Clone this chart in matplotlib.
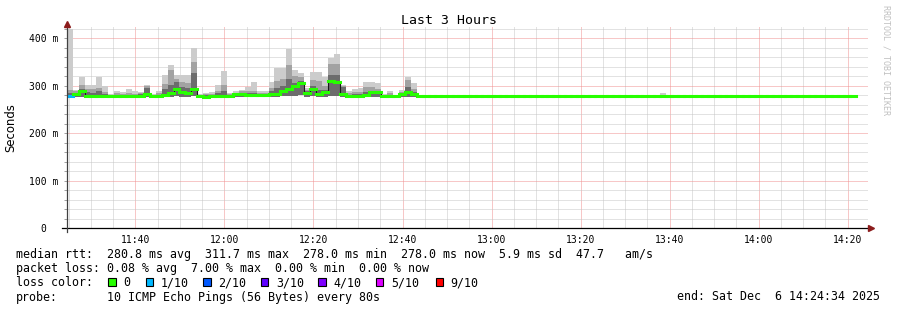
import numpy as np
import matplotlib.pyplot as plt
from matplotlib.patches import Rectangle

# median rtt and smoke per 80 s step (ms), active part first
rtt_med = [278.6, 282, 288.5, 279, 278, 278.5, 279.5, 279.5, 279.5, 279.5,
           278.6, 277.5, 279.5, 282, 279.5, 278.5, 281.4, 285.6, 294, 287,
           284, 294, 278, 277, 277.5, 278, 279, 278, 283, 283,
           280, 281, 280, 281, 282, 282, 288, 294, 300, 306,
           285, 293, 283.5, 287, 311, 308, 283.5, 279, 279, 279,
           281, 286, 286, 278, 278, 278, 282, 286, 282]
rtt_max = [420, 291, 318, 302, 301, 318, 299, 283, 290, 287,
           293, 289, 287, 301, 283, 290, 322, 343, 322, 322,
           322, 380, 283, 285, 286, 302, 331, 284, 290, 292,
           298, 307, 290, 290, 309, 337, 338, 378, 333, 328,
           296, 329, 329, 318, 359, 366, 301, 288, 294, 295,
           309, 308, 306, 283, 290, 280, 292, 318, 305]
rtt_p8 = [292, 288, 301, 294, 294, 295, 287, 281, 284, 283,
          284, 283, 284, 299, 281, 284, 304, 333, 315, 308,
          305, 350, 281, 282, 283, 290, 301, 282, 285, 288,
          290, 290, 285, 284, 295, 310, 315, 343, 320, 318,
          292, 312, 310, 300, 347, 345, 300, 284, 286, 287,
          297, 297, 294, 281, 284, 279, 287, 312, 294]
rtt_p6 = [285, 285, 294, 287, 285, 288, 283, 280, 281, 281,
          281, 281, 282, 296, 280, 281, 294, 301, 307, 297,
          295, 326, 280, 280, 281, 284, 290, 280, 283, 285,
          285, 284, 282, 282, 288, 296, 300, 315, 305, 310,
          288, 300, 292, 292, 323, 323, 297, 281, 282, 282,
          287, 290, 289, 280, 281, 279, 284, 297, 287]
rtt_min = [277, 277, 277, 276.5, 276.5, 277, 277, 277, 277, 277,
           276.5, 276, 277, 277, 277, 277, 277, 277, 278, 277,
           277, 278, 276.5, 276, 276, 276.5, 277, 276.5, 277, 277,
           277, 277, 277, 277, 277, 277, 278, 278, 279, 280,
           277, 278, 277, 277, 279, 279, 277, 277, 277, 277,
           277, 277, 277, 276.5, 276.5, 277, 277, 277, 277]

# flat tail after ~12:45
flat_n = 74
flat_med = [278.0] * flat_n
flat_max = [278.6] * flat_n
flat_bumps = {40: 281, 41: 285, 47: 281, 56: 281}

# loss per step, in tenths of pings lost
loss_tenths = [1] + [0] * 132

loss_levels = ['0', '1/10', '2/10', '3/10', '4/10', '5/10', '9/10']
loss_colors = ['#26ff00', '#00b8ff', '#0059ff', '#5e00ff', '#7e00ff', '#dd00ff', '#ff0000']
loss_key = {0: 0, 1: 1, 2: 2, 3: 3, 4: 4, 5: 5, 9: 6}

x_ticks = ['11:40', '12:00', '12:20', '12:40', '13:00', '13:20', '13:40', '14:00', '14:20']
y_ticks = [0, 100, 200, 300, 400]

stats_rows = [
    'median rtt:  280.8 ms avg  311.7 ms max  278.0 ms min  278.0 ms now  5.9 ms sd  47.7   am/s',
    'packet loss: 0.08 % avg  7.00 % max  0.00 % min  0.00 % now',
]
probe_text = '10 ICMP Echo Pings (56 Bytes) every 80s'
end_text = 'end: Sat Dec  6 14:24:34 2025'

W, H = 897, 310
MONO = 'DejaVu Sans Mono'


def hm(s):
    h, m = s.split(':')
    return int(h) * 60 + int(m)


def main():
    fmax = list(flat_max)
    for k, v in flat_bumps.items():
        fmax[k] = v
    med = np.array(rtt_med + flat_med, dtype=float)
    mx = np.array(rtt_max + fmax, dtype=float)
    p8 = np.array(rtt_p8 + [278.3] * flat_n, dtype=float)
    p6 = np.array(rtt_p6 + [278.1] * flat_n, dtype=float)
    mn = np.array(rtt_min + [277.6] * flat_n, dtype=float)

    t_start = 11 * 60 + 24 + 34 / 60.0
    t_end = t_start + 180
    dt = 80 / 60.0
    n = len(med)
    starts = t_start + np.arange(n) * dt
    edges = np.append(starts, starts[-1] + dt)

    def ext(a):
        return np.append(a, a[-1])

    fig = plt.figure(figsize=(W / 100, H / 100), dpi=100)
    L, R, T, B = 66.7, 868, 27, 228
    ax = fig.add_axes([L / W, 1 - B / H, (R - L) / W, (B - T) / H])
    ax.set_xlim(t_start, t_end)
    ax.set_ylim(0, 424)

    # dotted grid
    dot = (0, (1, 1))
    minor_c, major_c = '#c6c6c6', '#f09090'
    for m in np.arange(hm('11:25'), t_end, 5):
        ax.axvline(m, color=major_c if m % 20 == 0 else minor_c, lw=0.72, ls=dot, zorder=0.5)
    for v in np.arange(20, 424, 20):
        ax.axhline(v, color=major_c if v % 100 == 0 else minor_c, lw=0.72, ls=dot, zorder=0.5)

    # smoke
    ax.fill_between(edges, ext(mn), ext(mx), step='post', color='#cccccc', lw=0, zorder=1)
    ax.fill_between(edges, ext(mn), ext(p8), step='post', color='#a2a2a2', lw=0, zorder=1.1)
    ax.fill_between(edges, ext(mn), ext(p6), step='post', color='#6c6c6c', lw=0, zorder=1.2)

    # median coloured by loss, dark risers between steps
    ax.plot(edges, ext(med), drawstyle='steps-post', color='#1a1a1a', lw=0.8, zorder=1.8)
    cols = [loss_colors[loss_key[l]] for l in loss_tenths[:n]]
    segs = ax.hlines(med, starts, starts + dt, colors=cols, lw=2.2, zorder=2)
    segs.set_capstyle('projecting')

    for s in ax.spines.values():
        s.set_visible(False)
    ax.set_xticks([hm(t) for t in x_ticks])
    ax.set_xticklabels(x_ticks, family=MONO, fontsize=7)
    ax.set_yticks(y_ticks)
    ax.set_yticklabels([f'{v} m' if v else '0  ' for v in y_ticks], family=MONO, fontsize=7)
    ax.set_yticks(np.arange(20, 424, 20), minor=True)
    ax.tick_params(axis='x', length=0, pad=5)
    ax.tick_params(axis='y', which='both', length=2, width=0.7, color='#a0a0a0', pad=4)

    # axis lines with arrows
    arrow = '#8c1c1c'
    ax.plot([t_start - 4.5 / 4.45, t_end], [0, 0], color='black', lw=0.9, clip_on=False, zorder=3)
    ax.plot([t_start, t_start], [-9, 424 + 4], color='#404040', lw=0.9, clip_on=False, zorder=3)
    ax.plot([t_end + 0.6], [0], marker='>', ms=4.5, color=arrow, clip_on=False, zorder=4)
    ax.plot([t_start], [424 + 6], marker='^', ms=4.5, color=arrow, clip_on=False, zorder=4)

    fig.text(10.5 / W, 1 - 127.5 / H, 'Seconds', fontsize=8.4, family='DejaVu Sans',
             rotation=90, ha='center', va='center')
    fig.text(0.5, 1 - 20 / H, 'Last 3 Hours', family=MONO, fontsize=9.5, ha='center', va='center')
    fig.text(886 / W, 1 - 5 / H, 'RRDTOOL / TOBI OETIKER', family=MONO, fontsize=6,
             color='#c0c0c0', rotation=270, ha='center', va='top')

    # legend block
    fs = 8.4
    base = [258, 272, 286, 300.5]
    for i, row in enumerate(stats_rows):
        fig.text(16 / W, 1 - base[i] / H, row, family=MONO, fontsize=fs, va='baseline')
    fig.text(16 / W, 1 - base[2] / H, 'loss color:', family=MONO, fontsize=fs, va='baseline')
    box_x = [108.3, 145.7, 203.3, 261, 318.3, 376, 435.7]
    for bx, lab, c in zip(box_x, loss_levels, loss_colors):
        fig.add_artist(Rectangle((bx / W, 1 - 285.7 / H), 7.2 / W, 7.4 / H,
                                 transform=fig.transFigure, facecolor=c,
                                 edgecolor='black', lw=0.8))
        fig.text((bx + 15) / W, 1 - base[2] / H, lab, family=MONO, fontsize=fs, va='baseline')
    fig.text(16 / W, 1 - base[3] / H, 'probe:', family=MONO, fontsize=fs, va='baseline')
    fig.text(107 / W, 1 - base[3] / H, probe_text, family=MONO, fontsize=fs, va='baseline')
    fig.text(880 / W, 1 - base[3] / H, end_text, family=MONO, fontsize=fs, va='baseline', ha='right')

    fig.savefig('out.png', dpi=100)


if __name__ == '__main__':
    main()
